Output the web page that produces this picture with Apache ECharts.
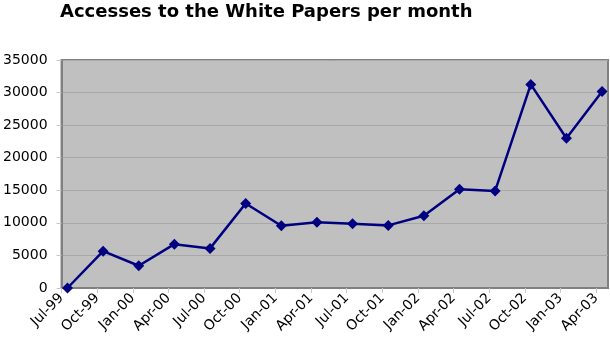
<!DOCTYPE html>
<html>
<head>
<meta charset="utf-8">
<script src="https://cdn.jsdelivr.net/npm/echarts@6/dist/echarts.min.js"></script>
<style>html,body{margin:0;padding:0;background:#fff}#c{width:610px;height:348px}</style>
</head>
<body>
<div id="c"></div>
<script>
const title = 'Accesses to the White Papers per month';
const categories = ['Jul-99','Oct-99','Jan-00','Apr-00','Jul-00','Oct-00','Jan-01','Apr-01','Jul-01','Oct-01','Jan-02','Apr-02','Jul-02','Oct-02','Jan-03','Apr-03'];
const values = [0, 5650, 3420, 6730, 6080, 12980, 9560, 10080, 9860, 9610, 11080, 15150, 14900, 31250, 22980, 30150];
const yTicks = [0, 5000, 10000, 15000, 20000, 25000, 30000, 35000];
const monthNames = ['Jan','Feb','Mar','Apr','May','Jun','Jul','Aug','Sep','Oct','Nov','Dec'];

// month index from Jul-99 (0); points plotted mid-month like an Excel date axis
function monthIndex(label) {
  const [m, y] = label.split('-');
  const yr = 1900 + (+y < 50 ? 100 + +y : +y);
  return (yr - 1999) * 12 + monthNames.indexOf(m) - 6;
}
function monthLabel(idx) {
  const total = 1999 * 12 + 6 + idx;
  const yr = Math.floor(total / 12), m = total % 12;
  return monthNames[m] + '-' + String(yr % 100).padStart(2, '0');
}
const data = categories.map((c, i) => [monthIndex(c) + 0.5, values[i]]);

const chart = echarts.init(document.getElementById('c'), null, {renderer: 'canvas'});
chart.setOption({
  animation: false,
  title: {
    text: title, left: 55, top: -2,
    textStyle: {fontFamily: 'DejaVu Sans', fontWeight: 'bold', fontSize: 18, color: '#000'}
  },
  grid: {
    left: 60, top: 60, width: 548, height: 228,
    show: true, backgroundColor: '#C0C0C0', borderColor: '#808080', borderWidth: 2
  },
  xAxis: {
    type: 'value', min: 0, max: 46, interval: 3,
    axisLine: {show: true, lineStyle: {color: '#808080', width: 2}},
    axisTick: {show: true, length: 5, lineStyle: {color: '#C8C8C8'}},
    splitLine: {show: false},
    axisLabel: {
      rotate: 45, margin: 8, showMaxLabel: false,
      fontFamily: 'DejaVu Sans', fontSize: 14, color: '#000',
      formatter: v => monthLabel(v)
    }
  },
  yAxis: {
    type: 'value', min: yTicks[0], max: yTicks[yTicks.length - 1], interval: 5000,
    axisLine: {show: true, lineStyle: {color: '#808080', width: 2}},
    axisTick: {show: true, length: 5, lineStyle: {color: '#C8C8C8'}},
    splitLine: {show: true, lineStyle: {color: '#A8A8A8', width: 1}},
    axisLabel: {fontFamily: 'DejaVu Sans', fontSize: 14, color: '#000', margin: 14, formatter: v => String(v)}
  },
  series: [{
    type: 'line', data: data,
    lineStyle: {color: '#000080', width: 2.5},
    itemStyle: {color: '#000080'},
    symbol: 'diamond', symbolSize: 11, showAllSymbol: true
  }]
});
</script>
</body>
</html>
